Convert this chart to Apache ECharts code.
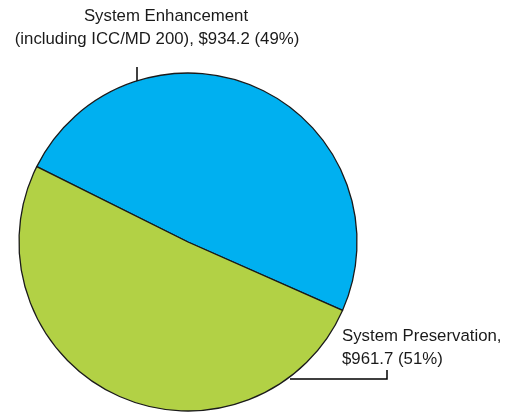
<!DOCTYPE html>
<html>
<head>
<meta charset="utf-8">
<script src="https://cdn.jsdelivr.net/npm/echarts@6/dist/echarts.min.js"></script>
<style>
html,body{margin:0;padding:0;background:#fff;}
#c{width:512px;height:416px;}
</style>
</head>
<body>
<div id="c"></div>
<script>
const categories = ['System Enhancement', 'System Preservation,'];
const subLines = ['(including ICC/MD 200),', ''];
const values = [934.2, 961.7];
const percentLabels = ['49%', '51%'];
const colors = ['#00B0F0', '#B2D145'];

const chart = echarts.init(document.getElementById('c'), null, {renderer: 'canvas'});
const data = categories.map((c, i) => ({
  name: c,
  value: values[i],
  itemStyle: {color: colors[i]}
}));

chart.setOption({
  animation: false,
  series: [{
    type: 'pie',
    center: [188, 242],
    radius: 169,
    startAngle: 153.5,
    clockwise: true,
    avoidLabelOverlap: false,
    emphasis: {disabled: true},
    itemStyle: {borderColor: '#1a1a1a', borderWidth: 1.3},
    data: data,
    label: {
      show: true,
      position: 'outside',
      fontFamily: 'Liberation Sans, Arial, sans-serif',
      fontSize: 16.8,
      lineHeight: 22.5,
      color: '#1a1a1a',
      formatter: function (p) {
        const i = p.dataIndex;
        const tail = '$' + p.value.toFixed(1) + ' (' + percentLabels[i] + ')';
        if (subLines[i]) {
          return '{a|' + p.name + '}\n' + subLines[i] + ' ' + tail;
        }
        return p.name + '\n' + tail;
      },
      rich: {
        a: {
          fontFamily: 'Liberation Sans, Arial, sans-serif',
          fontSize: 16.8,
          lineHeight: 22.5,
          color: '#1a1a1a',
          padding: [0, 0, 0, 18]
        }
      }
    },
    labelLine: {show: true, smooth: false, lineStyle: {color: '#000', width: 1.5}},
    labelLayout: function (params) {
      if (params.dataIndex === 0) {
        return {
          x: 157, y: 28, align: 'center', verticalAlign: 'middle',
          labelLinePoints: [[137, 82], [137, 74], [137, 67]]
        };
      }
      return {
        x: 342, y: 348, align: 'left', verticalAlign: 'middle',
        labelLinePoints: [[290, 379], [387, 379], [387, 370]]
      };
    }
  }]
});
</script>
</body>
</html>
